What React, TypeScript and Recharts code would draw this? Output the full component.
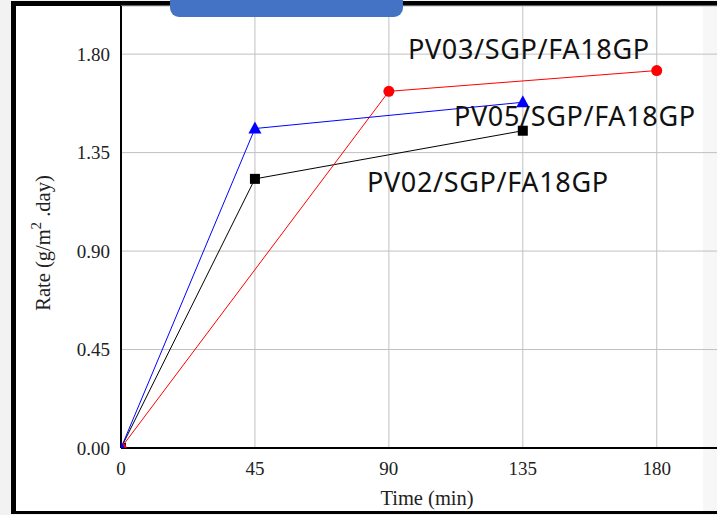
import React from 'react';
import { LineChart, Line, XAxis, YAxis, CartesianGrid } from 'recharts';

const xTicks = [0, 45, 90, 135, 180];
const yTicks = [0, 0.45, 0.9, 1.35, 1.8];

const pv02Time = [0, 45, 135];
const pv02Rate = [0, 1.23, 1.45];
const pv05Time = [0, 45, 135];
const pv05Rate = [0, 1.46, 1.58];
const pv03Time = [0, 90, 180];
const pv03Rate = [0, 1.63, 1.725];

const seriesNames = ['PV02/SGP/FA18GP', 'PV05/SGP/FA18GP', 'PV03/SGP/FA18GP'];

const toRows = (xs: number[], ys: number[]) => xs.map((t, i) => ({ t, r: ys[i] }));
const pv02Data = toRows(pv02Time, pv02Rate);
const pv05Data = toRows(pv05Time, pv05Rate);
const pv03Data = toRows(pv03Time, pv03Rate);

const SquareDot = (p: any) => (
  <rect key={`sq-${p.index}`} x={p.cx - 5} y={p.cy - 5} width={10} height={10} fill="#000" />
);
const TriDot = (p: any) => (
  <polygon
    key={`tr-${p.index}`}
    points={`${p.cx},${p.cy - 7} ${p.cx - 6.5},${p.cy + 5} ${p.cx + 6.5},${p.cy + 5}`}
    fill="#0000ff"
  />
);
const CircleDot = (p: any) => (
  <circle key={`ci-${p.index}`} cx={p.cx} cy={p.cy} r={5.5} fill="#ff0000" />
);

const serif = '"Liberation Serif", "Times New Roman", serif';
const tickStyle = { fontFamily: serif, fontSize: 19, fill: '#222' };
const sans = '"Noto Sans", sans-serif';

export default function App() {
  return (
    <div style={{ position: 'fixed', left: 0, top: 0, width: 717, height: 515, background: '#f2f2f2', overflow: 'hidden' }}>
      <svg width={717} height={515} style={{ position: 'absolute', left: 0, top: 0 }}>
        <rect x={11} y={1} width={720} height={513} fill="#000" />
        <rect x={16} y={6} width={720} height={505} fill="#fff" />
        <rect x={703} y={6} width={20} height={505} fill="#f7f7f7" />
      </svg>
      <div style={{ position: 'absolute', left: 0, top: 0 }}>
        <LineChart width={724} height={515} margin={{ top: 6, right: 0, bottom: 37, left: 0 }}>
          <CartesianGrid stroke="#c0c0c0" strokeWidth={1} />
          <XAxis
            type="number"
            dataKey="t"
            domain={[0, 202.6]}
            ticks={xTicks}
            allowDataOverflow
            height={30}
            tickLine={false}
            tickSize={0}
            tickMargin={14}
            axisLine={{ stroke: '#000', strokeWidth: 2 }}
            tick={tickStyle}
            label={{
              content: () => (
                <text x={427} y={505} textAnchor="middle" fontFamily={serif} fontSize={20.5} fill="#222">
                  Time (min)
                </text>
              ),
            }}
          />
          <YAxis
            type="number"
            dataKey="r"
            domain={[0, 2.02]}
            ticks={yTicks}
            allowDataOverflow
            width={121}
            tickLine={false}
            tickSize={0}
            tickMargin={11}
            axisLine={{ stroke: '#000', strokeWidth: 2 }}
            tick={tickStyle}
            tickFormatter={(v: number) => v.toFixed(2)}
            label={{
              content: () => (
                <text
                  x={50}
                  y={243}
                  transform="rotate(-90 50 243)"
                  textAnchor="middle"
                  fontFamily={serif}
                  fontSize={20.5}
                  fill="#222"
                >
                  <tspan>Rate (g/m</tspan>
                  <tspan dy={-9} fontSize={15}>2</tspan>
                  <tspan dy={9}> .day)</tspan>
                </text>
              ),
            }}
          />
          <Line data={pv02Data} dataKey="r" name={seriesNames[0]} stroke="#000" strokeWidth={1} dot={SquareDot} isAnimationActive={false} />
          <Line data={pv03Data} dataKey="r" name={seriesNames[2]} stroke="#ff0000" strokeWidth={1} dot={CircleDot} isAnimationActive={false} />
          <Line data={pv05Data} dataKey="r" name={seriesNames[1]} stroke="#0000ff" strokeWidth={1} dot={TriDot} isAnimationActive={false} />
        </LineChart>
      </div>
      <svg width={717} height={515} style={{ position: 'absolute', left: 0, top: 0, pointerEvents: 'none' }}>
        <text x={408} y={59} fontFamily={sans} fontSize={27} letterSpacing={0.65} fill="#111">{seriesNames[2]}</text>
        <text x={454} y={126} fontFamily={sans} fontSize={27} letterSpacing={0.65} fill="#111">{seriesNames[1]}</text>
        <text x={367} y={192} fontFamily={sans} fontSize={27} letterSpacing={0.65} fill="#111">{seriesNames[0]}</text>
        <path d="M170,0 H403 V8 A9,9 0 0 1 394,17 H179 A9,9 0 0 1 170,8 Z" fill="#4472C4" />
      </svg>
    </div>
  );
}
